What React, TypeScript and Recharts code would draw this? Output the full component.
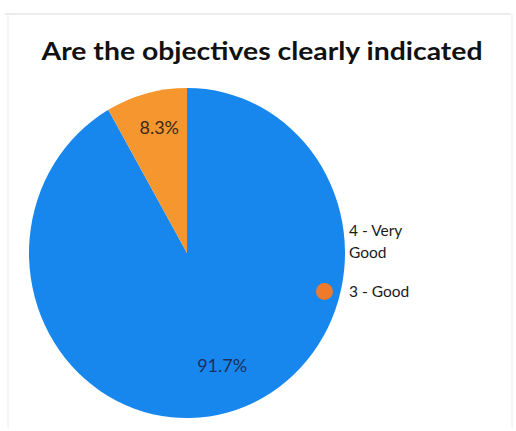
import React from "react";
import { PieChart, Pie, Cell, Legend, Sector } from "recharts";

const categories = ["4 - Very Good", "3 - Good"];
const values = [91.7, 8.3];
const labels = ["91.7%", "8.3%"];
const colors = ["#1787EE", "#F5962F"];
const legendDotColors = ["#1787EE", "#EE7A2A"];
const title = "Are the objectives clearly indicated";

const data = categories.map((name, i) => ({ name, value: values[i], label: labels[i] }));

const CX = 187;
const CY = 253;
const R = 158;
const SY = 1.045;
const RAD = Math.PI / 180;
const labelRadiusFactor = [0.74, 0.78];
const labelNudge = [
  [5, -6],
  [4, -2],
];

const EllipseSector = (props: any) => {
  const { cx, cy } = props;
  return (
    <g transform={`translate(${cx},${cy}) scale(1,${SY}) translate(${-cx},${-cy})`}>
      <Sector {...props} />
    </g>
  );
};

const renderLabel = (props: any) => {
  const { cx, cy, midAngle, outerRadius, index } = props;
  const f = labelRadiusFactor[index];
  const x = cx + outerRadius * f * Math.cos(-midAngle * RAD) + labelNudge[index][0];
  const y = cy + outerRadius * f * Math.sin(-midAngle * RAD) * SY + labelNudge[index][1];
  return (
    <text
      x={x}
      y={y}
      textAnchor="middle"
      dominantBaseline="central"
      fill={index === 0 ? "#1d2f5a" : "#3a2a1a"}
      fontFamily="Lato, 'Open Sans', sans-serif"
      fontSize={18}
    >
      {data[index].label}
    </text>
  );
};

const LegendContent = () => (
  <div style={{ fontFamily: "Lato, 'Open Sans', sans-serif", fontSize: 15.5, color: "#1a1a1a" }}>
    <div style={{ position: "relative", height: 44 }}>
      <span
        style={{
          position: "absolute",
          left: -33,
          top: 14,
          width: 17,
          height: 17,
          borderRadius: 9,
          background: legendDotColors[0],
        }}
      />
      <div style={{ lineHeight: "22px", width: 62 }}>{categories[0]}</div>
    </div>
    <div style={{ position: "relative", marginTop: 17 }}>
      <span
        style={{
          position: "absolute",
          left: -33,
          top: 2.5,
          width: 17,
          height: 17,
          borderRadius: 9,
          background: legendDotColors[1],
        }}
      />
      <div style={{ lineHeight: "22px" }}>{categories[1]}</div>
    </div>
  </div>
);

export default function App() {
  return (
    <div style={{ position: "absolute", left: 0, top: 0, width: 516, height: 431, background: "#fff" }}>
      <svg
        width={516}
        height={431}
        style={{ position: "absolute", left: 0, top: 0 }}
      >
        <line x1={5} y1={14} x2={511} y2={14} stroke="#d8d8d8" strokeWidth={1} />
        <line x1={8} y1={14} x2={8} y2={428} stroke="#ececec" strokeWidth={1} />
        <line x1={512} y1={14} x2={512} y2={428} stroke="#ececec" strokeWidth={1} />
        <text
          x={262}
          y={60}
          textAnchor="middle"
          fontFamily="Lato, 'Open Sans', sans-serif"
          fontWeight={700}
          fontSize={25}
          fill="#111"
          textLength={441}
          lengthAdjust="spacingAndGlyphs"
        >
          {title}
        </text>
      </svg>
      <div style={{ position: "absolute", left: 0, top: 0 }}>
        <PieChart width={516} height={431} margin={{ top: 0, right: 0, bottom: 0, left: 0 }}>
          <Pie
            data={data}
            dataKey="value"
            nameKey="name"
            cx={CX}
            cy={CY}
            outerRadius={R}
            innerRadius={0}
            startAngle={90}
            endAngle={-270}
            stroke="none"
            isAnimationActive={false}
            label={renderLabel}
            labelLine={false}
            shape={EllipseSector}
          >
            {data.map((d, i) => (
              <Cell key={d.name} fill={colors[i]} />
            ))}
          </Pie>
          <Legend
            content={LegendContent}
            wrapperStyle={{ position: "absolute", left: 349, top: 219, width: 120 }}
          />
        </PieChart>
      </div>
    </div>
  );
}
